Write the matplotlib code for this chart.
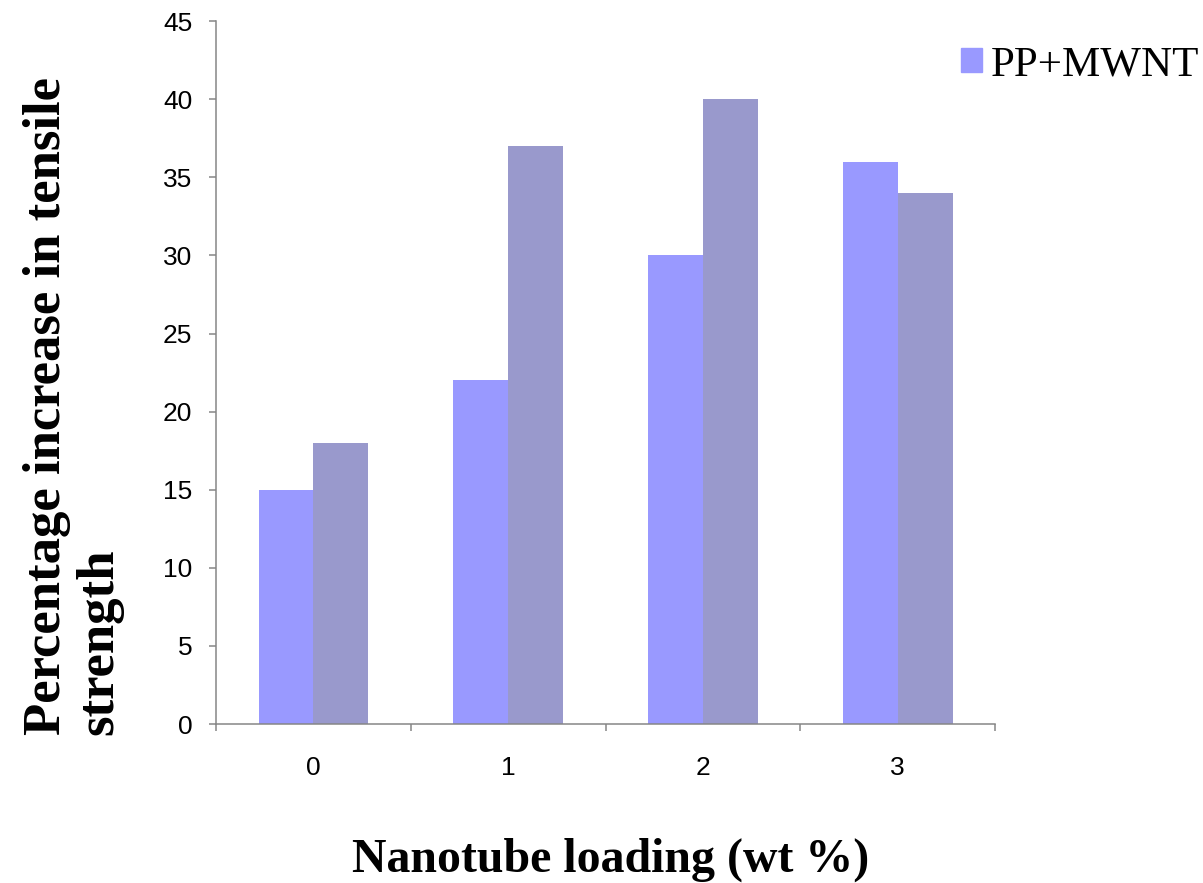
import numpy as np
import matplotlib.pyplot as plt
from matplotlib.patches import Patch

categories = ['0', '1', '2', '3']
pp_mwnt = [15, 22, 30, 36]
second = [18, 37, 40, 34]

fig = plt.figure(figsize=(12.03, 8.83), dpi=100)
ax = fig.add_axes([0.1796, 0.180, 0.6475, 0.796])

x = np.arange(len(categories))
w = 0.282
ax.bar(x - w / 2, pp_mwnt, w, color='#9999FF')
ax.bar(x + w / 2, second, w, color='#9999CC')

ax.set_xlim(-0.5, len(categories) - 0.5)
ax.set_ylim(0, 45)
ax.set_yticks(range(0, 46, 5))
ax.set_xticks(x)
ax.set_xticklabels(categories)
ax.set_xticks(np.arange(-0.5, len(categories), 1), minor=True)

for s in ['top', 'right']:
    ax.spines[s].set_visible(False)
for s in ['left', 'bottom']:
    ax.spines[s].set_color('#868686')
    ax.spines[s].set_linewidth(1.1)

ax.tick_params(axis='y', direction='out', length=5, width=1.1, color='#868686',
               labelsize=19, pad=12)
ax.tick_params(axis='x', which='major', length=0, labelsize=19, pad=23)
ax.tick_params(axis='x', which='minor', direction='out', length=5, width=1.1,
               color='#868686')
for lab in ax.get_xticklabels() + ax.get_yticklabels():
    lab.set_fontfamily('Liberation Sans')

fig.text(0.5075, 0.026, 'Nanotube loading (wt %)', ha='center', va='center',
         fontsize=34.5, fontweight='bold', family='Liberation Serif')
fig.text(0.061, 0.168, 'Percentage increase in tensile\nstrength', rotation=90,
         ha='center', va='bottom', multialignment='left', fontsize=38,
         fontweight='bold', family='Liberation Serif', linespacing=1.12)

fig.legend(handles=[Patch(color='#9999FF', label='PP+MWNT')], loc='upper right',
           bbox_to_anchor=(1.029, 0.992), frameon=False, handlelength=0.5,
           handleheight=0.5, handletextpad=0.2,
           prop={'family': 'Liberation Serif', 'size': 31})

plt.savefig('out.png')
